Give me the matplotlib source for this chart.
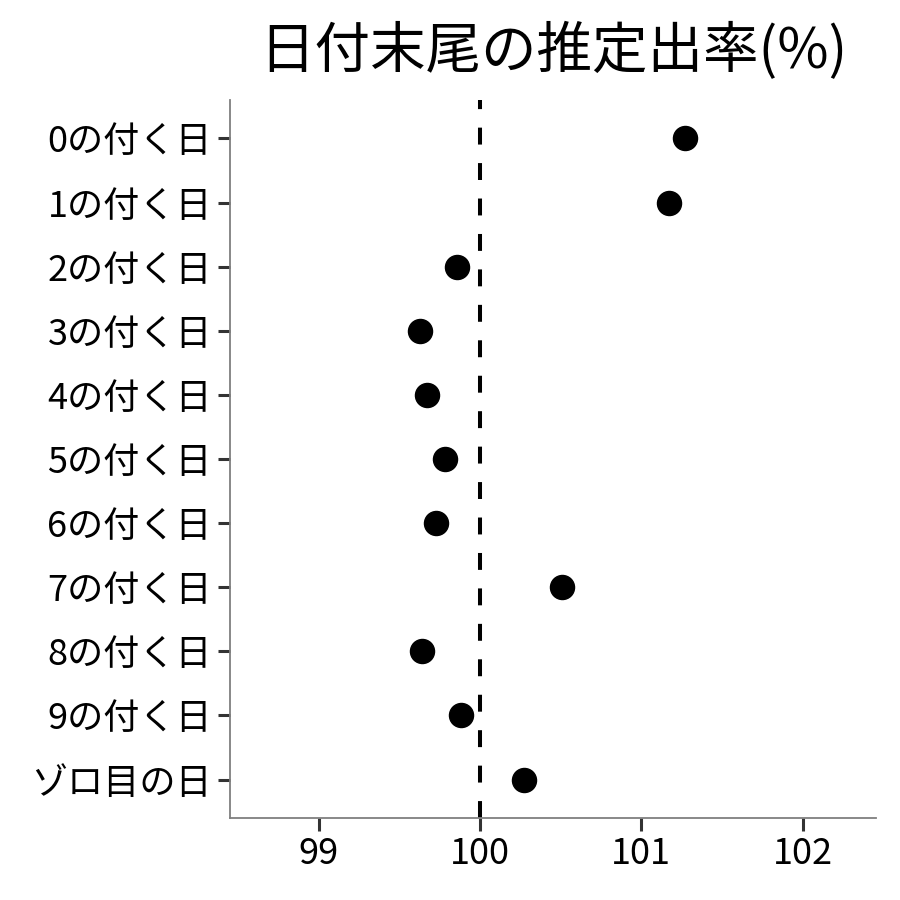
import matplotlib
matplotlib.use("Agg")
import matplotlib.pyplot as plt

plt.rcParams['font.family'] = ['Noto Sans CJK JP', 'DejaVu Sans']

labels = ["0の付く日", "1の付く日", "2の付く日", "3の付く日", "4の付く日",
          "5の付く日", "6の付く日", "7の付く日", "8の付く日", "9の付く日",
          "ゾロ目の日"]
rate = [101.27, 101.17, 99.86, 99.63, 99.67, 99.78, 99.73, 100.51, 99.64,
        99.88, 100.27]
xticks = [99, 100, 101, 102]

fig = plt.figure(figsize=(9, 9), dpi=100)
ax = fig.add_axes([230/900, 1 - 818/900, (876 - 230)/900, (818 - 100)/900])

ypos = list(range(len(labels)))
ax.axvline(100, color='black', linestyle=(0, (4.2, 4.6)), linewidth=2.9, zorder=1)
ax.scatter(rate, ypos, s=300, color='black', zorder=3)

ax.set_yticks(ypos)
ax.set_yticklabels(labels)
ax.set_ylim(len(labels) - 0.4, -0.6)
ax.set_xticks(xticks)
ax.set_xlim(98.45, 102.455)

for s in ['top', 'right']:
    ax.spines[s].set_visible(False)
for s in ['left', 'bottom']:
    ax.spines[s].set_color('#7f7f7f')
    ax.spines[s].set_linewidth(1.3)
ax.tick_params(axis='both', length=9, width=2.2, color='#333333',
               labelsize=26, labelcolor='black')
ax.tick_params(axis='y', pad=4)
ax.tick_params(axis='x', pad=4)

ax.set_title("日付末尾の推定出率(%)", fontsize=40, pad=23)

fig.savefig("out.png", dpi=100)
